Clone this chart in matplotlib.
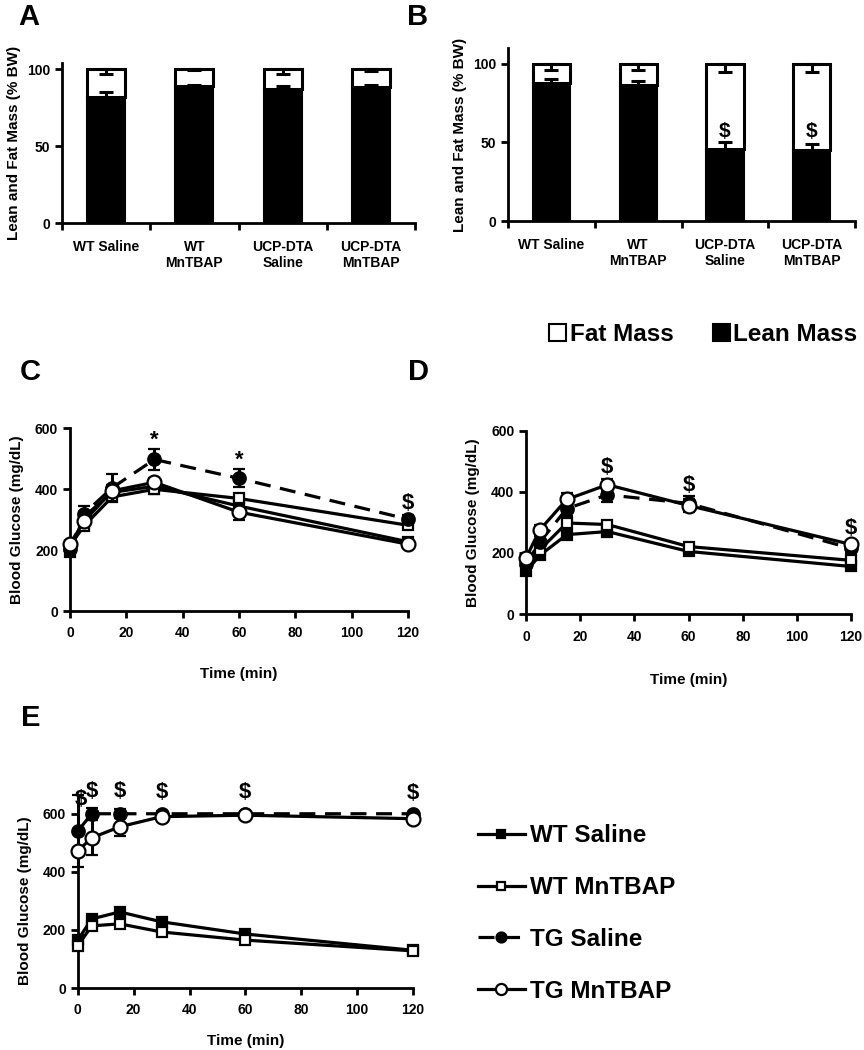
import matplotlib
matplotlib.use("Agg")
import matplotlib.pyplot as plt
import numpy as np
from matplotlib.patches import Patch

plt.rcParams['font.family'] = ['Liberation Sans', 'DejaVu Sans']
plt.rcParams['font.weight'] = 'bold'

# 体成分数据（% BW）
groups = ["WT Saline", "WT\nMnTBAP", "UCP-DTA\nSaline", "UCP-DTA\nMnTBAP"]
lean_a = [82, 89, 87, 88.5]
lean_err_a = [3, 0.5, 2, 1]
fat_err_a = [3, 0.5, 3, 1.5]
lean_b = [87.5, 86.5, 46, 45]
lean_err_b = [2.5, 2.5, 4, 4]
fat_err_b = [4, 4, 5, 5]
dollar_b = [None, None, 57, 57]

# 血糖数据（mg/dL）
time = [0, 5, 15, 30, 60, 120]
labels = ["WT Saline", "WT MnTBAP", "TG Saline", "TG MnTBAP"]

wt_sal_c = [195, 310, 390, 410, 345, 228]
wt_mn_c = [215, 280, 375, 400, 370, 282]
tg_sal_c = [205, 320, 405, 498, 436, 302]
tg_mn_c = [220, 295, 395, 423, 325, 220]
err_c = [[10, 15, 15, 15, 20, 10], [10, 15, 15, 15, 15, 10],
         [15, 25, 45, 35, 30, 15], [10, 15, 20, 15, 25, 10]]
marks_c = [("*", 30, 561), ("*", 60, 495), ("$", 120, 354)]

wt_sal_d = [140, 192, 260, 270, 205, 156]
wt_mn_d = [175, 210, 298, 293, 221, 176]
tg_sal_d = [165, 235, 345, 390, 362, 215]
tg_mn_d = [185, 275, 375, 423, 355, 228]
err_d = [[10, 10, 15, 10, 10, 8], [10, 10, 15, 10, 10, 8],
         [15, 20, 25, 25, 25, 15], [10, 15, 20, 20, 20, 10]]
marks_d = [("$", 30, 479), ("$", 60, 420), ("$", 120, 280)]

wt_sal_e = [165, 238, 262, 228, 186, 130]
wt_mn_e = [145, 214, 221, 193, 165, 128]
tg_sal_e = [540, 600, 600, 600, 600, 600]
tg_mn_e = [472, 517, 555, 590, 595, 583]
err_e = [[10, 10, 10, 10, 8, 5], [10, 10, 10, 10, 8, 5],
         [125, 20, 15, 10, 5, 5], [10, 60, 30, 10, 5, 15]]
marks_e = [("$", 1, 648), ("$", 5, 676), ("$", 15, 676), ("$", 30, 672), ("$", 60, 672), ("$", 120, 668)]

LW = 2.3
SPINE_W = 2.0
TICK_FS = 10
LABEL_FS = 11

fig = plt.figure(figsize=(8.64, 10.5), dpi=100)


def style_axes(ax):
    for s in ["top", "right"]:
        ax.spines[s].set_visible(False)
    for s in ["left", "bottom"]:
        ax.spines[s].set_linewidth(SPINE_W)
    ax.tick_params(width=SPINE_W, length=5, labelsize=TICK_FS)


def bar_panel(rect, lean, lean_err, fat_err, ytop, dollars=None):
    ax = fig.add_axes(rect)
    x = np.arange(len(groups))
    fat = [100 - v for v in lean]
    ax.bar(x, lean, width=0.43, color="black", edgecolor="black", linewidth=1.5, zorder=2)
    ax.bar(x, fat, bottom=lean, width=0.43, color="white", edgecolor="black", linewidth=2.2, zorder=2)
    ax.errorbar(x, lean, yerr=[np.zeros(len(x)), lean_err], fmt="none", ecolor="black",
                elinewidth=2.2, capsize=5, capthick=2.2, zorder=3)
    ax.errorbar(x, [100] * len(x), yerr=[fat_err, np.zeros(len(x))], fmt="none", ecolor="black",
                elinewidth=2.2, capsize=5, capthick=2.2, zorder=3)
    if dollars is not None:
        for xi, d in zip(x, dollars):
            if d is not None:
                ax.text(xi, d, "$", ha="center", va="center", fontsize=15, fontweight="bold")
    ax.set_xlim(-0.5, len(groups) - 0.5)
    ax.set_ylim(0, ytop)
    ax.set_yticks([0, 50, 100])
    ax.set_xticks(x)
    ax.set_xticklabels(groups, fontsize=LABEL_FS, fontweight="bold")
    ax.set_xticks(np.arange(-0.5, len(groups)), minor=True)
    style_axes(ax)
    ax.tick_params(axis="x", which="major", length=0, pad=12)
    ax.tick_params(axis="x", which="minor", length=5, width=SPINE_W)
    ax.set_ylabel("Lean and Fat Mass (% BW)", fontsize=LABEL_FS, fontweight="bold", labelpad=4)
    return ax


def glucose_panel(rect, series, errs, marks, xpad):
    ax = fig.add_axes(rect)
    styles = [("s", "black", "-"), ("s", "white", "-"), ("o", "black", (0, (5, 3))), ("o", "white", "-")]
    sizes = [7.5, 7.5, 9, 10]
    handles = []
    for i, (vals, err) in enumerate(zip(series, errs)):
        mk, fc, ls = styles[i]
        h = ax.errorbar(time, vals, yerr=err, color="black", linestyle=ls, linewidth=LW,
                        marker=mk, markersize=sizes[i], markerfacecolor=fc, markeredgecolor="black",
                        markeredgewidth=1.6, elinewidth=2.2, capsize=4, capthick=2.2,
                        zorder=3 + i, clip_on=False)
        for art in h.lines[1]:
            art.set_clip_on(False)
        for art in h.lines[2]:
            art.set_clip_on(False)
        handles.append(h.lines[0])
    for txt, xv, yv in marks:
        ax.text(xv, yv, txt, ha="center", va="center", fontsize=16, fontweight="bold", zorder=10)
    ax.set_xlim(0, 120)
    ax.set_ylim(0, 600)
    ax.set_xticks(np.arange(0, 121, 20))
    ax.set_yticks([0, 200, 400, 600])
    style_axes(ax)
    ax.tick_params(axis="x", pad=6)
    ax.set_xlabel("Time (min)", fontsize=LABEL_FS, fontweight="bold", labelpad=xpad)
    ax.set_ylabel("Blood Glucose (mg/dL)", fontsize=LABEL_FS, fontweight="bold", labelpad=8)
    return ax, handles


bar_panel([0.0718, 0.7876, 0.4086, 0.1524], lean_a, lean_err_a, fat_err_a, 104)
bar_panel([0.588, 0.7895, 0.4016, 0.1648], lean_b, lean_err_b, fat_err_b, 110, dollar_b)

glucose_panel([0.081, 0.418, 0.391, 0.174], [wt_sal_c, wt_mn_c, tg_sal_c, tg_mn_c], err_c, marks_c, 19)
glucose_panel([0.609, 0.415, 0.376, 0.175], [wt_sal_d, wt_mn_d, tg_sal_d, tg_mn_d], err_d, marks_d, 21)
ax_e, handles_e = glucose_panel([0.090, 0.059, 0.388, 0.166],
                                [wt_sal_e, wt_mn_e, tg_sal_e, tg_mn_e], err_e, marks_e, 12)

# 面板字母
for letter, px, py in [("A", 29, 17), ("B", 418, 17), ("C", 30, 372), ("D", 418, 372), ("E", 31, 718)]:
    fig.text(px / 864, 1 - py / 1050, letter, fontsize=21, fontweight="bold", ha="center", va="center")

# 体成分图例
mass_handles = [Patch(facecolor="white", edgecolor="black", linewidth=1.5),
                Patch(facecolor="black", edgecolor="black", linewidth=1.5)]
fig.legend(mass_handles, ["Fat Mass", "Lean Mass"], loc="center", bbox_to_anchor=(0.814, 0.681),
           ncol=2, frameon=False, fontsize=17.5, handlelength=0.7, handleheight=0.7,
           handletextpad=0.15, columnspacing=1.6, borderpad=0, borderaxespad=0)

# 血糖图例
fig.legend(handles_e, labels, loc="center left", bbox_to_anchor=(0.553, 0.130), frameon=False,
           fontsize=17.5, handlelength=1.95, handletextpad=0.2, labelspacing=1.18,
           borderpad=0, borderaxespad=0, markerscale=0.8)

fig.savefig("out.png", dpi=100)
